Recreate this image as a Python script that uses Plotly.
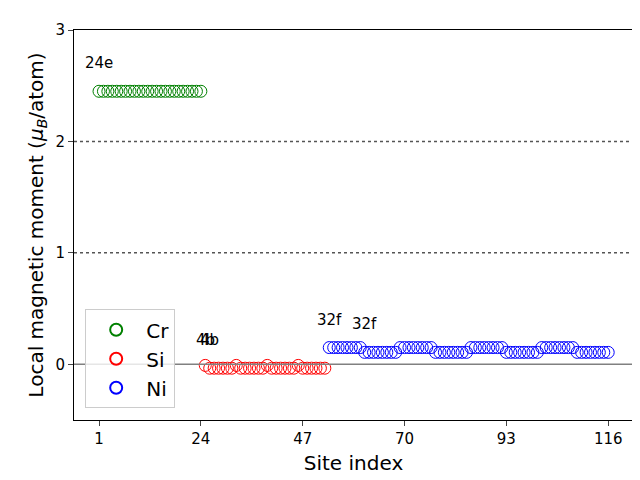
import plotly.graph_objects as go

cr_x = list(range(1, 25))
cr_y = [2.45] * 24
si_x = list(range(25, 53))
si_y = [(-0.01 if i % 7 == 0 else -0.035) for i in range(28)]
ni_x = list(range(53, 117))
ni_y = [(0.15 if (i // 8) % 2 == 0 else 0.107) for i in range(64)]
labels = [("24e", 1, 2.70), ("4b", 25, 0.22), ("4b", 26, 0.22), ("32f", 53, 0.40), ("32f", 61, 0.36)]
xticks = [1, 24, 47, 70, 93, 116]

fig = go.Figure()
for name, xs, ys, c in [("Cr", cr_x, cr_y, "green"), ("Si", si_x, si_y, "red"), ("Ni", ni_x, ni_y, "blue")]:
    fig.add_trace(go.Scatter(x=xs, y=ys, mode="markers", name=name,
                             marker=dict(symbol="circle-open", size=12, color=c, line=dict(width=1))))
for t, x, y in labels:
    fig.add_annotation(x=x, y=y, text=t, showarrow=False, font=dict(size=15, color="black"))
for y, d, c in [(1, "dot", "#555"), (2, "dot", "#555"), (0, "solid", "gray")]:
    fig.add_shape(type="line", xref="paper", x0=0, x1=1, y0=y, y1=y, line=dict(color=c, dash=d, width=1.5))

fig.update_layout(
    width=640, height=480, plot_bgcolor="white", paper_bgcolor="white",
    margin=dict(l=66, r=15, t=22, b=68, autoexpand=False),
    font=dict(family="DejaVu Sans", size=15, color="black"),
    xaxis=dict(range=[-4.65, 121.6], tickvals=xticks, showgrid=False, zeroline=False, automargin=False,
               showline=True, linecolor="black", mirror=True, ticks="outside", tickfont=dict(size=15),
               title=dict(text="Site index", font=dict(size=20), standoff=8)),
    yaxis=dict(range=[-0.5, 3], tickvals=[0, 1, 2, 3], showgrid=False, zeroline=False, automargin=False,
               showline=True, linecolor="black", mirror=True, ticks="outside", tickfont=dict(size=15),
               title=dict(text="Local magnetic moment (<i>μ</i><sub><i>B</i></sub>/atom)", font=dict(size=20), standoff=6)),
    legend=dict(x=0.02, y=0.03, xanchor="left", yanchor="bottom", bordercolor="#ccc", borderwidth=1,
                font=dict(size=20), bgcolor="rgba(255,255,255,0.8)", itemsizing="constant",
                tracegroupgap=6, itemwidth=50),
)
fig.write_html("out.html")
